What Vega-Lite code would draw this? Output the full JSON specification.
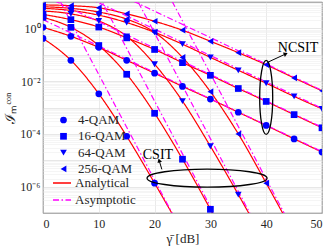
{
  "$schema": "https://vega.github.io/schema/vega-lite/v6.json",
  "width": 279,
  "height": 211,
  "autosize": {"type": "none"},
  "padding": {"left": 43, "top": 2, "right": 8, "bottom": 36},
  "background": "white",
  "config": {
    "view": {"stroke": "#262626", "strokeWidth": 0.8},
    "font": "Liberation Serif",
    "axis": {
      "labelFont": "Liberation Serif",
      "titleFont": "Liberation Serif",
      "labelColor": "#262626",
      "titleColor": "#262626",
      "titleFontWeight": "normal",
      "domain": false,
      "ticks": false
    },
    "legend": {"labelFont": "Liberation Serif", "labelColor": "#262626"}
  },
  "datasets": {
    "curves": [
      {"s": "C4", "mod": "4-QAM", "kind": "Analytical", "x": 0, "v": 0.417},
      {"s": "C4", "mod": "4-QAM", "kind": "Analytical", "x": 5, "v": 0.0617},
      {"s": "C4", "mod": "4-QAM", "kind": "Analytical", "x": 10, "v": 0.00331},
      {"s": "C4", "mod": "4-QAM", "kind": "Analytical", "x": 15, "v": 8.13e-5},
      {"s": "C4", "mod": "4-QAM", "kind": "Analytical", "x": 20, "v": 1.35e-6},
      {"s": "C4", "mod": "4-QAM", "kind": "Analytical", "x": 25, "v": 1.905e-8},
      {"s": "C16", "mod": "16-QAM", "kind": "Analytical", "x": 0, "v": 2.63},
      {"s": "C16", "mod": "16-QAM", "kind": "Analytical", "x": 5, "v": 1.096},
      {"s": "C16", "mod": "16-QAM", "kind": "Analytical", "x": 10, "v": 0.224},
      {"s": "C16", "mod": "16-QAM", "kind": "Analytical", "x": 15, "v": 0.0182},
      {"s": "C16", "mod": "16-QAM", "kind": "Analytical", "x": 20, "v": 6.03e-4},
      {"s": "C16", "mod": "16-QAM", "kind": "Analytical", "x": 25, "v": 1.096e-5},
      {"s": "C16", "mod": "16-QAM", "kind": "Analytical", "x": 30, "v": 1.38e-7},
      {"s": "C16", "mod": "16-QAM", "kind": "Analytical", "x": 35, "v": 1.58e-9},
      {"s": "C64", "mod": "64-QAM", "kind": "Analytical", "x": 0, "v": 4.57},
      {"s": "C64", "mod": "64-QAM", "kind": "Analytical", "x": 5, "v": 3.55},
      {"s": "C64", "mod": "64-QAM", "kind": "Analytical", "x": 10, "v": 1.905},
      {"s": "C64", "mod": "64-QAM", "kind": "Analytical", "x": 15, "v": 0.501},
      {"s": "C64", "mod": "64-QAM", "kind": "Analytical", "x": 20, "v": 0.0437},
      {"s": "C64", "mod": "64-QAM", "kind": "Analytical", "x": 25, "v": 0.00174},
      {"s": "C64", "mod": "64-QAM", "kind": "Analytical", "x": 30, "v": 3.39e-5},
      {"s": "C64", "mod": "64-QAM", "kind": "Analytical", "x": 35, "v": 5.01e-7},
      {"s": "C64", "mod": "64-QAM", "kind": "Analytical", "x": 40, "v": 6.31e-9},
      {"s": "C256", "mod": "256-QAM", "kind": "Analytical", "x": 0, "v": 6.61},
      {"s": "C256", "mod": "256-QAM", "kind": "Analytical", "x": 5, "v": 5.75},
      {"s": "C256", "mod": "256-QAM", "kind": "Analytical", "x": 10, "v": 4.17},
      {"s": "C256", "mod": "256-QAM", "kind": "Analytical", "x": 15, "v": 2.24},
      {"s": "C256", "mod": "256-QAM", "kind": "Analytical", "x": 20, "v": 0.708},
      {"s": "C256", "mod": "256-QAM", "kind": "Analytical", "x": 25, "v": 0.0794},
      {"s": "C256", "mod": "256-QAM", "kind": "Analytical", "x": 30, "v": 0.00398},
      {"s": "C256", "mod": "256-QAM", "kind": "Analytical", "x": 35, "v": 1e-4},
      {"s": "C256", "mod": "256-QAM", "kind": "Analytical", "x": 40, "v": 1.35e-6},
      {"s": "C256", "mod": "256-QAM", "kind": "Analytical", "x": 45, "v": 1.58e-8},
      {"s": "N4", "mod": "4-QAM", "kind": "Analytical", "x": 0, "v": 1.096},
      {"s": "N4", "mod": "4-QAM", "kind": "Analytical", "x": 5, "v": 0.501},
      {"s": "N4", "mod": "4-QAM", "kind": "Analytical", "x": 10, "v": 0.1905},
      {"s": "N4", "mod": "4-QAM", "kind": "Analytical", "x": 15, "v": 0.0617},
      {"s": "N4", "mod": "4-QAM", "kind": "Analytical", "x": 20, "v": 0.01995},
      {"s": "N4", "mod": "4-QAM", "kind": "Analytical", "x": 25, "v": 0.00631},
      {"s": "N4", "mod": "4-QAM", "kind": "Analytical", "x": 30, "v": 0.00209},
      {"s": "N4", "mod": "4-QAM", "kind": "Analytical", "x": 35, "v": 6.61e-4},
      {"s": "N4", "mod": "4-QAM", "kind": "Analytical", "x": 40, "v": 2.09e-4},
      {"s": "N4", "mod": "4-QAM", "kind": "Analytical", "x": 45, "v": 6.46e-5},
      {"s": "N4", "mod": "4-QAM", "kind": "Analytical", "x": 50, "v": 2.04e-5},
      {"s": "N16", "mod": "16-QAM", "kind": "Analytical", "x": 0, "v": 3.39},
      {"s": "N16", "mod": "16-QAM", "kind": "Analytical", "x": 5, "v": 2.14},
      {"s": "N16", "mod": "16-QAM", "kind": "Analytical", "x": 10, "v": 1.122},
      {"s": "N16", "mod": "16-QAM", "kind": "Analytical", "x": 15, "v": 0.437},
      {"s": "N16", "mod": "16-QAM", "kind": "Analytical", "x": 20, "v": 0.1585},
      {"s": "N16", "mod": "16-QAM", "kind": "Analytical", "x": 25, "v": 0.0501},
      {"s": "N16", "mod": "16-QAM", "kind": "Analytical", "x": 30, "v": 0.0166},
      {"s": "N16", "mod": "16-QAM", "kind": "Analytical", "x": 35, "v": 0.00525},
      {"s": "N16", "mod": "16-QAM", "kind": "Analytical", "x": 40, "v": 0.0017},
      {"s": "N16", "mod": "16-QAM", "kind": "Analytical", "x": 45, "v": 5.37e-4},
      {"s": "N16", "mod": "16-QAM", "kind": "Analytical", "x": 50, "v": 1.7e-4},
      {"s": "N64", "mod": "64-QAM", "kind": "Analytical", "x": 0, "v": 5.75},
      {"s": "N64", "mod": "64-QAM", "kind": "Analytical", "x": 5, "v": 4.79},
      {"s": "N64", "mod": "64-QAM", "kind": "Analytical", "x": 10, "v": 3.16},
      {"s": "N64", "mod": "64-QAM", "kind": "Analytical", "x": 15, "v": 1.66},
      {"s": "N64", "mod": "64-QAM", "kind": "Analytical", "x": 20, "v": 0.708},
      {"s": "N64", "mod": "64-QAM", "kind": "Analytical", "x": 25, "v": 0.251},
      {"s": "N64", "mod": "64-QAM", "kind": "Analytical", "x": 30, "v": 0.0794},
      {"s": "N64", "mod": "64-QAM", "kind": "Analytical", "x": 35, "v": 0.0257},
      {"s": "N64", "mod": "64-QAM", "kind": "Analytical", "x": 40, "v": 0.00832},
      {"s": "N64", "mod": "64-QAM", "kind": "Analytical", "x": 45, "v": 0.00263},
      {"s": "N64", "mod": "64-QAM", "kind": "Analytical", "x": 50, "v": 8.91e-4},
      {"s": "N256", "mod": "256-QAM", "kind": "Analytical", "x": 0, "v": 7.76},
      {"s": "N256", "mod": "256-QAM", "kind": "Analytical", "x": 5, "v": 7.24},
      {"s": "N256", "mod": "256-QAM", "kind": "Analytical", "x": 10, "v": 6.03},
      {"s": "N256", "mod": "256-QAM", "kind": "Analytical", "x": 15, "v": 3.55},
      {"s": "N256", "mod": "256-QAM", "kind": "Analytical", "x": 20, "v": 1.86},
      {"s": "N256", "mod": "256-QAM", "kind": "Analytical", "x": 25, "v": 0.851},
      {"s": "N256", "mod": "256-QAM", "kind": "Analytical", "x": 30, "v": 0.324},
      {"s": "N256", "mod": "256-QAM", "kind": "Analytical", "x": 35, "v": 0.12},
      {"s": "N256", "mod": "256-QAM", "kind": "Analytical", "x": 40, "v": 0.0417},
      {"s": "N256", "mod": "256-QAM", "kind": "Analytical", "x": 45, "v": 0.0132},
      {"s": "N256", "mod": "256-QAM", "kind": "Analytical", "x": 50, "v": 0.00427}
    ],
    "asym": [
      {"s": "aC4", "kind": "Asymptotic", "x": 0, "v": 177.8},
      {"s": "aC4", "kind": "Asymptotic", "x": 25, "v": 1.78e-8},
      {"s": "aC16", "kind": "Asymptotic", "x": 10, "v": 17.4},
      {"s": "aC16", "kind": "Asymptotic", "x": 35, "v": 1.74e-9},
      {"s": "aC64", "kind": "Asymptotic", "x": 15, "v": 66.1},
      {"s": "aC64", "kind": "Asymptotic", "x": 40, "v": 6.61e-9},
      {"s": "aC256", "kind": "Asymptotic", "x": 20, "v": 190.5},
      {"s": "aC256", "kind": "Asymptotic", "x": 45, "v": 1.905e-8},
      {"s": "aN4", "kind": "Asymptotic", "x": 0, "v": 2.14},
      {"s": "aN4", "kind": "Asymptotic", "x": 50, "v": 2.14e-5},
      {"s": "aN16", "kind": "Asymptotic", "x": 0, "v": 17.8},
      {"s": "aN16", "kind": "Asymptotic", "x": 50, "v": 1.78e-4},
      {"s": "aN64", "kind": "Asymptotic", "x": 0, "v": 93.3},
      {"s": "aN64", "kind": "Asymptotic", "x": 50, "v": 9.33e-4},
      {"s": "aN256", "kind": "Asymptotic", "x": 0, "v": 446.7},
      {"s": "aN256", "kind": "Asymptotic", "x": 50, "v": 0.00447}
    ],
    "ellipses": [
      {"x": 29.4, "v": 2.1e-6, "shape": "M-1,0A1,0.15,0,1,0,1,0A1,0.15,0,1,0,-1,0", "sz": 14400},
      {"x": 40, "v": 0.0024, "shape": "M0,-1A0.176,1,0,1,0,0,1A0.176,1,0,1,0,0,-1", "sz": 5476}
    ],
    "arrows": [
      {"x": 40.2, "v": 0.051, "x2": 43.4, "v2": 0.105, "ang": 66},
      {"x": 21.3, "v": 4.5e-6, "x2": 20.85, "v2": 9.3e-6, "ang": -17}
    ],
    "labels": [
      {"x": 45.7, "v": 0.174, "t": "NCSIT"},
      {"x": 20.6, "v": 1.55e-5, "t": "CSIT"}
    ]
  },
  "encoding": {
    "x": {
      "field": "x",
      "type": "quantitative",
      "scale": {"domain": [0, 50], "nice": false},
      "axis": {
        "values": [0, 10, 20, 30, 40, 50],
        "title": "γ̄ [dB]",
        "titleFontSize": 13,
        "labelFontSize": 12,
        "labelPadding": 5,
        "titlePadding": 3,
        "gridColor": "#dcdcdc",
        "gridWidth": 0.6
      }
    },
    "y": {
      "field": "v",
      "type": "quantitative",
      "scale": {"type": "log", "domain": [1e-7, 10], "nice": false},
      "axis": {
        "values": [1e-7, 2e-7, 3e-7, 4e-7, 5e-7, 6e-7, 7e-7, 8e-7, 9e-7,
                   1e-6, 2e-6, 3e-6, 4e-6, 5e-6, 6e-6, 7e-6, 8e-6, 9e-6,
                   1e-5, 2e-5, 3e-5, 4e-5, 5e-5, 6e-5, 7e-5, 8e-5, 9e-5,
                   1e-4, 2e-4, 3e-4, 4e-4, 5e-4, 6e-4, 7e-4, 8e-4, 9e-4,
                   1e-3, 2e-3, 3e-3, 4e-3, 5e-3, 6e-3, 7e-3, 8e-3, 9e-3,
                   1e-2, 2e-2, 3e-2, 4e-2, 5e-2, 6e-2, 7e-2, 8e-2, 9e-2,
                   0.1, 0.2, 0.3, 0.4, 0.5, 0.6, 0.7, 0.8, 0.9,
                   1, 2, 3, 4, 5, 6, 7, 8, 9, 10],
        "labelExpr": "round(log(datum.value)/LN10) == 0 && abs(datum.value - 1) < 1e-9 ? '10⁰' : abs(datum.value - 0.01) < 1e-12 ? '10⁻²' : abs(datum.value - 1e-4) < 1e-14 ? '10⁻⁴' : abs(datum.value - 1e-6) < 1e-16 ? '10⁻⁶' : ''",
        "labelOverlap": false,
        "labelFontSize": 12,
        "labelPadding": 3,
        "title": "ℐₘᶜᵒⁿ",
        "titleFontSize": 14,
        "titlePadding": 2,
        "gridColor": {
          "condition": {"test": "abs(log(datum.value)/LN10 - round(log(datum.value)/LN10)) < 0.001", "value": "#d6d6d6"},
          "value": "#efefef"
        },
        "gridWidth": 0.6
      }
    }
  },
  "layer": [
    {
      "data": {"name": "curves"},
      "mark": {"type": "line", "clip": true, "strokeWidth": 1.2, "interpolate": "monotone"},
      "encoding": {
        "detail": {"field": "s"},
        "color": {
          "field": "kind", "type": "nominal",
          "scale": {"domain": ["Analytical", "Asymptotic"], "range": ["#ff0000", "#ff00ff"]},
          "legend": {"title": null, "orient": "none", "legendX": 9, "legendY": 171, "symbolSize": 324, "symbolStrokeWidth": 1.3, "labelFontSize": 13, "labelOffset": 3, "rowPadding": -3, "padding": 0}
        },
        "strokeDash": {
          "field": "kind", "type": "nominal",
          "scale": {"domain": ["Analytical", "Asymptotic"], "range": [[1, 0], [6, 2.5, 1.5, 2.5]]},
          "legend": {"title": null, "orient": "none", "legendX": 9, "legendY": 171, "symbolSize": 324, "symbolStrokeWidth": 1.3, "labelFontSize": 13, "labelOffset": 3, "rowPadding": -3, "padding": 0}
        }
      }
    },
    {
      "data": {"name": "asym"},
      "mark": {"type": "line", "clip": true, "strokeWidth": 1.2},
      "encoding": {
        "detail": {"field": "s"},
        "color": {"field": "kind", "type": "nominal"},
        "strokeDash": {"field": "kind", "type": "nominal"}
      }
    },
    {
      "data": {"name": "curves"},
      "mark": {"type": "point", "filled": true, "clip": true, "size": 45, "color": "#0000ff", "opacity": 1},
      "encoding": {
        "shape": {
          "field": "mod", "type": "nominal",
          "scale": {"domain": ["4-QAM", "16-QAM", "64-QAM", "256-QAM"], "range": ["circle", "square", "triangle-down", "triangle-left"]},
          "legend": {"title": null, "orient": "none", "legendX": 14, "legendY": 111.5, "symbolSize": 45, "symbolFillColor": "#0000ff", "symbolStrokeWidth": 0, "labelFontSize": 13, "labelOffset": 8, "rowPadding": 2.3, "padding": 0}
        }
      }
    },
    {
      "data": {"name": "ellipses"},
      "mark": {"type": "point", "filled": false, "stroke": "black", "strokeWidth": 1.3, "opacity": 1},
      "encoding": {
        "shape": {"field": "shape", "type": "nominal", "scale": null},
        "size": {"field": "sz", "type": "quantitative", "scale": null}
      }
    },
    {
      "data": {"name": "arrows"},
      "mark": {"type": "rule", "color": "black", "strokeWidth": 1},
      "encoding": {
        "x2": {"field": "x2"},
        "y2": {"field": "v2"}
      }
    },
    {
      "data": {"name": "arrows"},
      "mark": {"type": "point", "shape": "triangle", "filled": true, "color": "black", "size": 22, "opacity": 1},
      "encoding": {
        "x": {"field": "x2", "type": "quantitative"},
        "y": {"field": "v2", "type": "quantitative"},
        "angle": {"field": "ang", "type": "quantitative", "scale": null}
      }
    },
    {
      "data": {"name": "labels"},
      "mark": {"type": "text", "font": "Liberation Serif", "fontSize": 14, "color": "black"},
      "encoding": {"text": {"field": "t"}}
    }
  ]
}
